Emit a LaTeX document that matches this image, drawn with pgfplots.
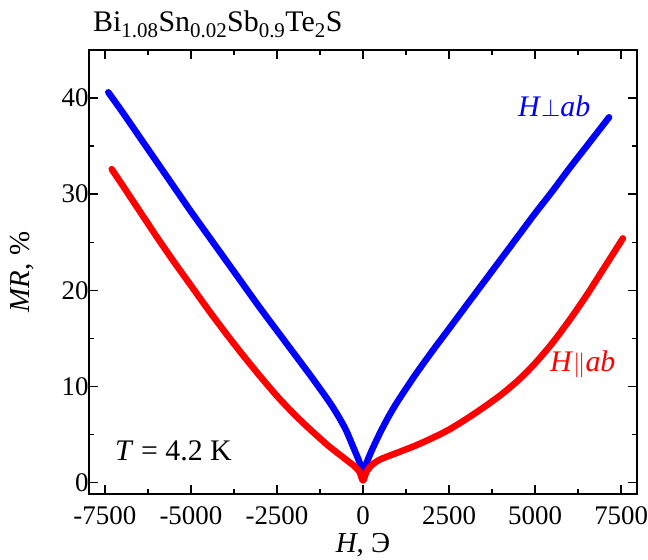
\documentclass[border=0pt]{standalone}
\usepackage{fontspec}
\setmainfont{Liberation Serif}
\usepackage{pgfplots}
\pgfplotsset{compat=1.18}
\definecolor{mrblue}{RGB}{0,0,255}
\definecolor{mrred}{RGB}{255,0,0}

\begin{document}
\begin{tikzpicture}
\useasboundingbox (-89bp,-66bp) rectangle (559bp,494bp);
\begin{axis}[at={(0,0)},anchor=south west,
  scale only axis,width=548bp,height=444bp,
  xmin=-7960,xmax=7960,ymin=-1.2,ymax=45,
  xtick={-7500,-5000,...,7500},
  xticklabels={-7500,-5000,-2500,0,2500,5000,7500},
  ytick={0,10,...,40},yticklabels={0,10,20,30,40},
  minor x tick num=1,minor y tick num=1,
  tick align=inside,tick pos=both,
  major tick length=9bp,minor tick length=5bp,
  axis line style={line width=1.6bp},
  every tick/.style={black,line width=1.4bp},
  tick label style={font=\fontsize{27}{30}\selectfont},
  xticklabel style={yshift=-9bp},
  yticklabel style={xshift=3bp},
  xlabel={\textit{H}, Э},ylabel={\textit{MR}, \%},
  label style={font=\fontsize{29}{32}\selectfont},
  xlabel style={at={(axis description cs:0.5,-0.115)},anchor=center},
  ylabel style={at={(axis description cs:-0.122,0.5)},anchor=center},
  every axis plot/.append style={line width=6.5bp,line join=round,line cap=round,smooth,tension=0.4}]
  % H perp ab
  \addplot[mrblue] coordinates {(-7400,40.6) (-7000,38.6) (-6500,36.0) (-6000,33.4) (-5500,30.8)
    (-5000,28.2) (-4500,25.7) (-4000,23.2) (-3500,20.7) (-3000,18.2) (-2500,15.8) (-2000,13.4)
    (-1500,11.0) (-1000,8.5) (-750,7.1) (-500,5.5) (-250,3.4) (-100,2.1) (0,1.0)
    (100,2.0) (250,3.3) (500,5.2) (750,6.9) (1000,8.4) (1500,11.1) (2000,13.6) (2500,16.0)
    (3000,18.4) (3500,20.8) (4000,23.2) (4500,25.6) (5000,28.0) (5500,30.3) (6000,32.7)
    (6500,35.0) (7150,38.0)};
  % H || ab
  \addplot[mrred] coordinates {(-7300,32.6) (-7000,31.0) (-6500,28.3) (-6000,25.6) (-5500,23.0)
    (-5000,20.5) (-4500,18.0) (-4000,15.6) (-3500,13.3) (-3000,11.1) (-2500,9.0) (-2000,7.1)
    (-1500,5.4) (-1000,3.8) (-500,2.4) (-250,1.7) (-100,1.1) (0,0.2)
    (100,1.1) (250,1.8) (500,2.4) (1000,3.1) (1500,3.8) (2000,4.6) (2500,5.5) (3000,6.6)
    (3500,7.8) (4000,9.1) (4500,10.6) (5000,12.4) (5500,14.5) (6000,16.9) (6500,19.5)
    (7000,22.3) (7550,25.4)};
\end{axis}
\node[anchor=base west,font=\fontsize{30}{34}\selectfont,inner sep=0pt] at (4bp,462bp)
  {Bi\textsubscript{1.08}Sn\textsubscript{0.02}Sb\textsubscript{0.9}Te\textsubscript{2}S};
\node[anchor=base west,font=\fontsize{30}{34}\selectfont,inner sep=0pt] at (26bp,34bp)
  {\textit{T} = 4.2 K};
\node[anchor=base west,font=\fontsize{30}{34}\selectfont,inner sep=0pt,text=mrblue] at (429bp,377bp)
  {\textit{H}$\perp$\textit{ab}};
\node[anchor=base west,font=\fontsize{30}{34}\selectfont,inner sep=0pt,text=mrred] at (461bp,122bp)
  {\textit{H}$\|$\textit{ab}};
\end{tikzpicture}
\end{document}
